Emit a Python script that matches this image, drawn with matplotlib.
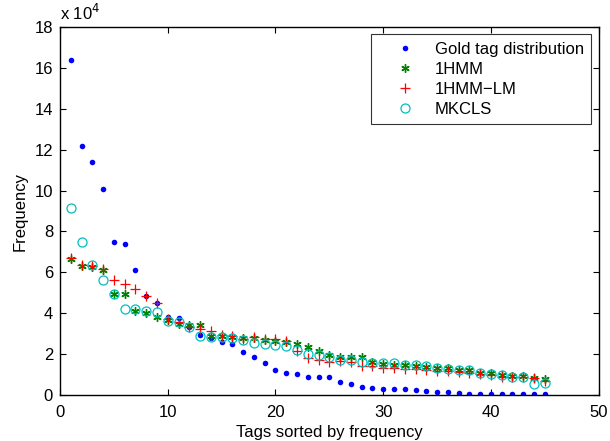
import numpy as np
import matplotlib
matplotlib.use("Agg")
import matplotlib.pyplot as plt
from matplotlib.ticker import FuncFormatter

plt.rcParams['font.family'] = ['Liberation Sans', 'DejaVu Sans']

# values, in units of 1e4
gold = [16.4, 12.2, 11.4, 10.1, 7.5, 7.4, 6.1, 4.85, 4.52, 3.8,
        3.75, 3.32, 2.96, 2.78, 2.61, 2.5, 2.12, 1.87, 1.55, 1.22,
        1.08, 1.02, 0.89, 0.89, 0.89, 0.62, 0.55, 0.42, 0.36, 0.3,
        0.3, 0.28, 0.23, 0.22, 0.16, 0.16, 0.11, 0.04, 0.04, 0.04,
        0.04, 0.04, 0.04, 0.04, 0.04]
hmm1 = [6.67, 6.32, 6.26, 6.13, 4.95, 4.93, 4.13, 4.0, 3.84, 3.68,
        3.48, 3.42, 3.45, 2.87, 2.9, 2.86, 2.8, 2.78, 2.7, 2.65,
        2.58, 2.51, 2.37, 2.17, 1.95, 1.87, 1.87, 1.86, 1.6, 1.52,
        1.47, 1.45, 1.4, 1.39, 1.31, 1.31, 1.23, 1.23, 1.09, 1.06,
        0.98, 0.93, 0.93, 0.85, 0.77]
hmm_lm = [6.72, 6.37, 6.32, 6.16, 5.64, 5.42, 5.2, 4.85, 4.52, 3.7,
          3.59, 3.35, 3.24, 3.12, 2.92, 2.89, 2.76, 2.83, 2.75, 2.76,
          2.64, 2.14, 1.82, 1.71, 1.6, 1.69, 1.63, 1.44, 1.4, 1.33,
          1.34, 1.28, 1.3, 1.23, 1.2, 1.2, 1.14, 1.09, 1.03, 0.98,
          0.9, 0.9, 0.88, 0.82, 0.69]
mkcls = [9.15, 7.51, 6.37, 5.64, 4.95, 4.2, 4.2, 4.13, 4.08, 3.64,
         3.59, 3.32, 2.88, 2.83, 2.86, 2.78, 2.68, 2.57, 2.5, 2.47,
         2.42, 2.22, 1.99, 1.97, 1.88, 1.73, 1.71, 1.6, 1.58, 1.56,
         1.55, 1.47, 1.47, 1.42, 1.33, 1.3, 1.23, 1.25, 1.1, 1.03,
         0.96, 0.87, 0.87, 0.54, 0.57]
labels = ['Gold tag distribution', '1HMM', '1HMM\u2212LM', 'MKCLS']

tags = np.arange(1, len(gold) + 1)
scale = 1e4
fs = 12

fig = plt.figure(figsize=(6.10, 4.41), dpi=100)
ax = fig.add_axes([0.0984, 0.104, 0.883, 0.835])

ax.plot(tags, np.array(gold) * scale, 'o', color='blue', markersize=4,
        markeredgewidth=0, label=labels[0])
ax.plot(tags, np.array(hmm1) * scale, linestyle='none', marker=(6, 2, 0),
        color=(0, 0.5, 0), markersize=6, markeredgewidth=1.0, label=labels[1])
ax.plot(tags, np.array(hmm_lm) * scale, '+', color='red', markersize=7,
        markeredgewidth=0.9, label=labels[2])
ax.plot(tags, np.array(mkcls) * scale, 'o', markerfacecolor='none',
        markeredgecolor=(0, 0.75, 0.75), markersize=6.5, markeredgewidth=0.9,
        label=labels[3])

ax.set_xlim(0, 50)
ax.set_ylim(0, 18 * scale)
ax.set_xticks(np.arange(0, 51, 10))
ax.set_yticks(np.arange(0, 19, 2) * scale)
ax.yaxis.set_major_formatter(FuncFormatter(lambda v, p: f"{v / scale:g}"))
ax.tick_params(direction='in', top=True, right=True, labelsize=fs,
               length=4, width=0.8, pad=5)
ax.tick_params(axis='x', pad=7)
for s in ax.spines.values():
    s.set_linewidth(1.0)

ax.text(0, 1.01, 'x 10$^4$', transform=ax.transAxes, fontsize=fs,
        ha='left', va='bottom')

ax.set_xlabel('Tags sorted by frequency', fontsize=fs, labelpad=4)
ax.set_ylabel('Frequency', fontsize=fs, labelpad=5)

leg = ax.legend(loc='upper right', fontsize=fs, frameon=True, fancybox=False,
                borderaxespad=0.45, handletextpad=0.15, labelspacing=0.3,
                handlelength=3.2, borderpad=0.45)
leg.get_frame().set_edgecolor('black')
leg.get_frame().set_linewidth(0.8)

fig.savefig('out.png', dpi=100)
